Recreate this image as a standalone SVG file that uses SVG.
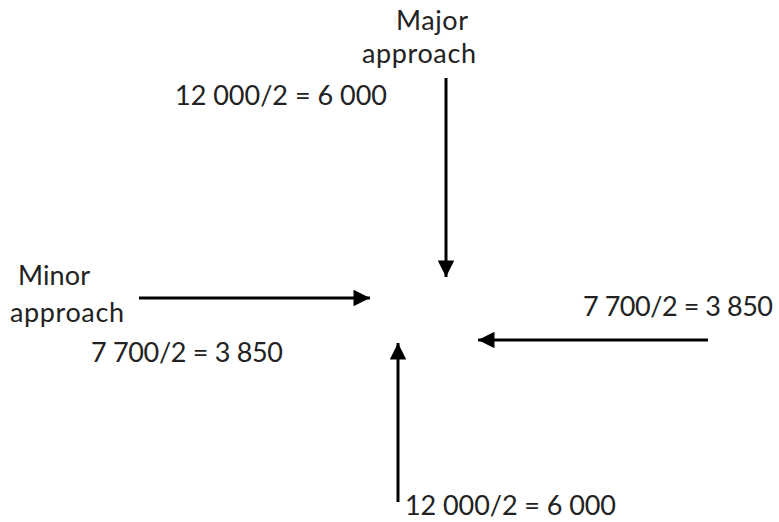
<svg xmlns="http://www.w3.org/2000/svg" width="779" height="522" viewBox="0 0 779 522">
<style>
text{font-family:Lato,"Open Sans","Liberation Sans",sans-serif;font-size:27px;fill:#222}
.c line{stroke:#000;stroke-width:3}
</style>
<defs>
<marker id="ah" viewBox="0 0 10 10" refX="10" refY="5" markerWidth="6" markerHeight="5.5" markerUnits="strokeWidth" orient="auto"><path d="M0,0 L10,5 L0,10 Z" fill="#000"/></marker>
</defs>
<rect width="779" height="522" fill="#fff"/>
<g class="c" id="connectors">
<line x1="446" y1="78" x2="446" y2="277" marker-end="url(#ah)"/>
<line x1="139" y1="298" x2="370" y2="298" marker-end="url(#ah)"/>
<line x1="708" y1="340" x2="478" y2="340" marker-end="url(#ah)"/>
<line x1="398" y1="502" x2="398" y2="343" marker-end="url(#ah)"/>
</g>
<g id="major"><text x="432" y="30" text-anchor="middle" textLength="72">Major</text><text x="419" y="63" text-anchor="middle" textLength="114">approach</text></g>
<g id="top-value"><text x="175" y="105" textLength="212">12 000/2 = 6 000</text></g>
<g id="minor"><text x="54" y="285" text-anchor="middle" textLength="72">Minor</text><text x="67" y="322" text-anchor="middle" textLength="114">approach</text></g>
<g id="left-value"><text x="91" y="362" textLength="192">7 700/2 = 3 850</text></g>
<g id="right-value"><text x="583" y="316" textLength="190">7 700/2 = 3 850</text></g>
<g id="bottom-value"><text x="405" y="515" textLength="211">12 000/2 = 6 000</text></g>
</svg>
